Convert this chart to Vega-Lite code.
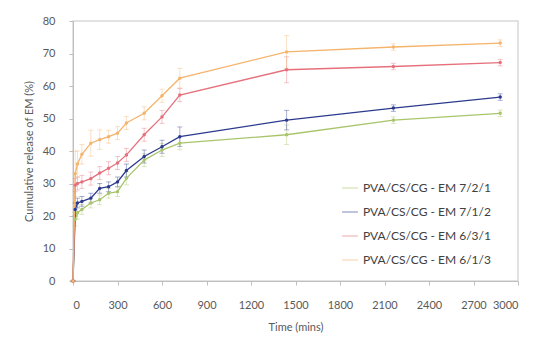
{
  "$schema": "https://vega.github.io/schema/vega-lite/v6.json",
  "autosize": {"type": "none"},
  "width": 445,
  "height": 260,
  "padding": {"left": 73, "top": 21, "right": 22, "bottom": 58},
  "background": "white",
  "config": {
    "font": "Lato",
    "view": {"stroke": "#d9d9d9", "strokeWidth": 1.5},
    "axis": {"labelFont": "Lato", "titleFont": "Lato", "labelColor": "#595959", "titleColor": "#595959", "labelFontSize": 11, "titleFontSize": 11, "titleFontWeight": "normal", "domainColor": "#bfbfbf", "tickColor": "#bfbfbf", "grid": false}
  },
  "data": {"values": [
    {"s": "PVA/CS/CG - EM 7/2/1", "t": 0, "v": 0, "e": 0},
    {"s": "PVA/CS/CG - EM 7/2/1", "t": 15, "v": 19, "e": 2},
    {"s": "PVA/CS/CG - EM 7/2/1", "t": 30, "v": 21, "e": 2},
    {"s": "PVA/CS/CG - EM 7/2/1", "t": 60, "v": 22, "e": 1.5},
    {"s": "PVA/CS/CG - EM 7/2/1", "t": 120, "v": 24, "e": 1.5},
    {"s": "PVA/CS/CG - EM 7/2/1", "t": 180, "v": 25, "e": 1.5},
    {"s": "PVA/CS/CG - EM 7/2/1", "t": 240, "v": 27, "e": 1.5},
    {"s": "PVA/CS/CG - EM 7/2/1", "t": 300, "v": 27.5, "e": 1.5},
    {"s": "PVA/CS/CG - EM 7/2/1", "t": 360, "v": 31.6, "e": 2},
    {"s": "PVA/CS/CG - EM 7/2/1", "t": 480, "v": 37.2, "e": 2},
    {"s": "PVA/CS/CG - EM 7/2/1", "t": 600, "v": 40.3, "e": 2},
    {"s": "PVA/CS/CG - EM 7/2/1", "t": 720, "v": 42.4, "e": 2},
    {"s": "PVA/CS/CG - EM 7/2/1", "t": 1440, "v": 45, "e": 3},
    {"s": "PVA/CS/CG - EM 7/2/1", "t": 2160, "v": 49.5, "e": 1},
    {"s": "PVA/CS/CG - EM 7/2/1", "t": 2880, "v": 51.6, "e": 1},
    {"s": "PVA/CS/CG - EM 7/1/2", "t": 0, "v": 0, "e": 0},
    {"s": "PVA/CS/CG - EM 7/1/2", "t": 15, "v": 22, "e": 2},
    {"s": "PVA/CS/CG - EM 7/1/2", "t": 30, "v": 24, "e": 1.5},
    {"s": "PVA/CS/CG - EM 7/1/2", "t": 60, "v": 24.5, "e": 1.5},
    {"s": "PVA/CS/CG - EM 7/1/2", "t": 120, "v": 25.5, "e": 1.5},
    {"s": "PVA/CS/CG - EM 7/1/2", "t": 180, "v": 28.5, "e": 1.5},
    {"s": "PVA/CS/CG - EM 7/1/2", "t": 240, "v": 29, "e": 1.5},
    {"s": "PVA/CS/CG - EM 7/1/2", "t": 300, "v": 30.5, "e": 1.5},
    {"s": "PVA/CS/CG - EM 7/1/2", "t": 360, "v": 34, "e": 2},
    {"s": "PVA/CS/CG - EM 7/1/2", "t": 480, "v": 38.3, "e": 2},
    {"s": "PVA/CS/CG - EM 7/1/2", "t": 600, "v": 41.3, "e": 2},
    {"s": "PVA/CS/CG - EM 7/1/2", "t": 720, "v": 44.4, "e": 3},
    {"s": "PVA/CS/CG - EM 7/1/2", "t": 1440, "v": 49.5, "e": 3},
    {"s": "PVA/CS/CG - EM 7/1/2", "t": 2160, "v": 53.2, "e": 1},
    {"s": "PVA/CS/CG - EM 7/1/2", "t": 2880, "v": 56.6, "e": 1},
    {"s": "PVA/CS/CG - EM 6/3/1", "t": 0, "v": 0, "e": 0},
    {"s": "PVA/CS/CG - EM 6/3/1", "t": 15, "v": 29.5, "e": 2},
    {"s": "PVA/CS/CG - EM 6/3/1", "t": 30, "v": 30, "e": 2},
    {"s": "PVA/CS/CG - EM 6/3/1", "t": 60, "v": 30.5, "e": 2},
    {"s": "PVA/CS/CG - EM 6/3/1", "t": 120, "v": 31.5, "e": 2},
    {"s": "PVA/CS/CG - EM 6/3/1", "t": 180, "v": 33.2, "e": 2},
    {"s": "PVA/CS/CG - EM 6/3/1", "t": 240, "v": 34.7, "e": 2},
    {"s": "PVA/CS/CG - EM 6/3/1", "t": 300, "v": 36.3, "e": 2},
    {"s": "PVA/CS/CG - EM 6/3/1", "t": 360, "v": 38.8, "e": 2},
    {"s": "PVA/CS/CG - EM 6/3/1", "t": 480, "v": 45, "e": 2},
    {"s": "PVA/CS/CG - EM 6/3/1", "t": 600, "v": 50.5, "e": 2},
    {"s": "PVA/CS/CG - EM 6/3/1", "t": 720, "v": 57.2, "e": 2},
    {"s": "PVA/CS/CG - EM 6/3/1", "t": 1440, "v": 65, "e": 4},
    {"s": "PVA/CS/CG - EM 6/3/1", "t": 2160, "v": 66, "e": 1},
    {"s": "PVA/CS/CG - EM 6/3/1", "t": 2880, "v": 67.2, "e": 1},
    {"s": "PVA/CS/CG - EM 6/1/3", "t": 0, "v": 0, "e": 0},
    {"s": "PVA/CS/CG - EM 6/1/3", "t": 15, "v": 33, "e": 7},
    {"s": "PVA/CS/CG - EM 6/1/3", "t": 30, "v": 36, "e": 4},
    {"s": "PVA/CS/CG - EM 6/1/3", "t": 60, "v": 39, "e": 3},
    {"s": "PVA/CS/CG - EM 6/1/3", "t": 120, "v": 42.4, "e": 4},
    {"s": "PVA/CS/CG - EM 6/1/3", "t": 180, "v": 43.5, "e": 3},
    {"s": "PVA/CS/CG - EM 6/1/3", "t": 240, "v": 44.4, "e": 2},
    {"s": "PVA/CS/CG - EM 6/1/3", "t": 300, "v": 45.5, "e": 2},
    {"s": "PVA/CS/CG - EM 6/1/3", "t": 360, "v": 48.6, "e": 2},
    {"s": "PVA/CS/CG - EM 6/1/3", "t": 480, "v": 51.6, "e": 2},
    {"s": "PVA/CS/CG - EM 6/1/3", "t": 600, "v": 57, "e": 2},
    {"s": "PVA/CS/CG - EM 6/1/3", "t": 720, "v": 62.4, "e": 3},
    {"s": "PVA/CS/CG - EM 6/1/3", "t": 1440, "v": 70.5, "e": 5},
    {"s": "PVA/CS/CG - EM 6/1/3", "t": 2160, "v": 72, "e": 1},
    {"s": "PVA/CS/CG - EM 6/1/3", "t": 2880, "v": 73.2, "e": 1}
  ]},
  "encoding": {
    "x": {"field": "t", "type": "quantitative", "scale": {"domain": [0, 3000], "nice": false}, "axis": {"values": [0, 300, 600, 900, 1200, 1500, 1800, 2100, 2400, 2700, 3000], "format": "d", "title": "Time (mins)", "labelPadding": 14, "tickSize": 4, "titlePadding": 11}},
    "y": {"field": "v", "type": "quantitative", "scale": {"domain": [0, 80], "nice": false}, "axis": {"values": [0, 10, 20, 30, 40, 50, 60, 70, 80], "title": "Cumulative release of  EM (%)", "labelPadding": 14, "tickSize": 4, "titlePadding": 8}},
    "color": {"field": "s", "type": "nominal", "scale": {"domain": ["PVA/CS/CG - EM 7/2/1", "PVA/CS/CG - EM 7/1/2", "PVA/CS/CG - EM 6/3/1", "PVA/CS/CG - EM 6/1/3"], "range": ["#a9c56b", "#2c3a8e", "#e5707c", "#f5b46c"]}, "legend": {"orient": "none", "legendX": 268, "legendY": 158, "title": null, "symbolType": "stroke", "symbolSize": 250, "symbolStrokeWidth": 1.5, "labelFont": "Lato", "labelFontSize": 12, "labelColor": "#404040", "rowPadding": 9, "fillColor": "white"}}
  },
  "layer": [
    {"mark": {"type": "errorbar", "ticks": {"size": 5}, "opacity": 0.4, "thickness": 1}, "encoding": {"y": {"field": "v", "type": "quantitative"}, "yError": {"field": "e"}}},
    {"mark": {"type": "line", "strokeWidth": 1.3}},
    {"mark": {"type": "point", "filled": true, "size": 12, "opacity": 1}}
  ]
}
